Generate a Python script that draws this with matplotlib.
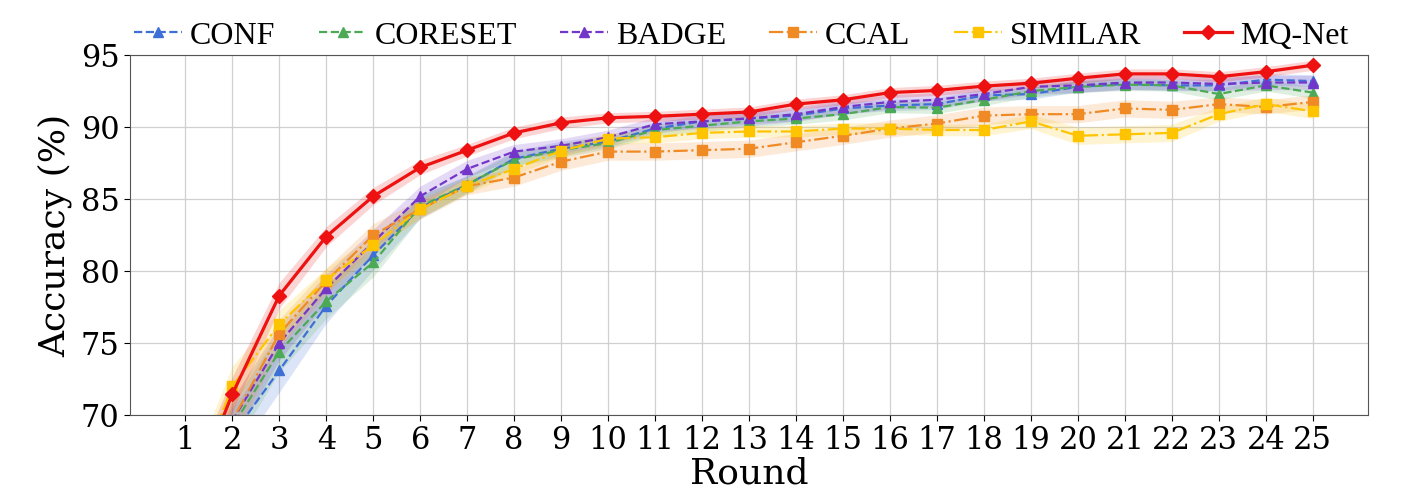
import numpy as np
from matplotlib import pyplot as plt

rounds = np.arange(1, 26)

conf = [60.5, 68.6, 73.1, 77.6, 81.1, 84.4, 86.0, 87.8, 88.5, 89.0, 89.9, 90.4, 90.6, 90.8, 91.3,
        91.5, 91.6, 92.2, 92.3, 92.8, 93.0, 92.9, 92.9, 93.3, 93.2]
coreset = [61.0, 69.2, 74.4, 77.9, 80.6, 84.5, 86.0, 87.75, 88.4, 88.9, 89.8, 90.1, 90.4, 90.6, 90.9,
           91.4, 91.35, 91.9, 92.5, 92.8, 92.95, 92.9, 92.3, 92.9, 92.4]
badge = [61.5, 69.6, 75.0, 78.8, 82.0, 85.2, 87.1, 88.3, 88.7, 89.3, 90.2, 90.4, 90.6, 90.9, 91.4,
         91.75, 91.9, 92.3, 92.8, 92.9, 93.1, 93.1, 93.0, 93.1, 93.1]
ccal = [62.0, 69.6, 75.65, 79.3, 82.5, 84.3, 85.9, 86.5, 87.6, 88.3, 88.3, 88.4, 88.5, 88.95, 89.4,
        89.9, 90.25, 90.8, 90.9, 90.9, 91.3, 91.2, 91.6, 91.4, 91.75]
similar = [63.5, 72.0, 76.3, 79.4, 81.8, 84.3, 85.9, 87.1, 88.35, 89.2, 89.3, 89.6, 89.7, 89.7, 89.9,
           89.9, 89.8, 89.8, 90.4, 89.4, 89.5, 89.6, 90.9, 91.6, 91.1]
mqnet = [63.3, 71.45, 78.3, 82.4, 85.2, 87.2, 88.4, 89.6, 90.3, 90.65, 90.75, 90.9, 91.05, 91.6, 91.9,
         92.4, 92.55, 92.85, 93.05, 93.4, 93.7, 93.7, 93.5, 93.85, 94.3]

# spread of the shaded bands
conf_sd = [2.0, 1.8, 1.6, 1.3, 1.1, 0.8, 0.6, 0.5, 0.5, 0.4, 0.4, 0.4, 0.4, 0.4, 0.4,
           0.4, 0.4, 0.4, 0.4, 0.4, 0.4, 0.4, 0.4, 0.4, 0.4]
coreset_sd = [2.0, 1.6, 1.4, 1.2, 1.0, 0.8, 0.6, 0.5, 0.5, 0.4, 0.4, 0.4, 0.4, 0.4, 0.4,
              0.4, 0.4, 0.4, 0.4, 0.4, 0.4, 0.4, 0.4, 0.4, 0.4]
badge_sd = [1.8, 1.5, 1.2, 1.0, 0.9, 0.7, 0.6, 0.5, 0.5, 0.5, 0.5, 0.5, 0.5, 0.5, 0.5,
            0.5, 0.5, 0.5, 0.5, 0.5, 0.5, 0.5, 0.5, 0.5, 0.5]
ccal_sd = [1.8, 1.4, 1.0, 0.9, 0.8, 0.7, 0.6, 0.6, 0.6, 0.6, 0.6, 0.6, 0.6, 0.6, 0.6,
           0.6, 0.6, 0.6, 0.6, 0.6, 0.6, 0.6, 0.5, 0.5, 0.5]
similar_sd = [1.8, 1.4, 1.0, 0.8, 0.7, 0.5, 0.5, 0.4, 0.4, 0.4, 0.4, 0.4, 0.4, 0.4, 0.4,
              0.4, 0.4, 0.4, 0.5, 0.6, 0.6, 0.6, 0.5, 0.5, 0.5]
mqnet_sd = [1.6, 1.2, 0.9, 0.7, 0.6, 0.5, 0.4, 0.4, 0.4, 0.35, 0.35, 0.35, 0.35, 0.35, 0.35,
            0.35, 0.35, 0.35, 0.35, 0.35, 0.35, 0.35, 0.35, 0.35, 0.35]

names = ["CONF", "CORESET", "BADGE", "CCAL", "SIMILAR", "MQ-Net"]
means = [conf, coreset, badge, ccal, similar, mqnet]
sds = [conf_sd, coreset_sd, badge_sd, ccal_sd, similar_sd, mqnet_sd]
colors = ["#3E6FD6", "#4CAA55", "#7436C8", "#F08A24", "#FFC400", "#EE1111"]
styles = ["--", "--", "--", "-.", "-.", "-"]
markers = ["^", "^", "^", "s", "s", "D"]
widths = [1.6, 1.6, 1.6, 1.6, 1.6, 2.3]

fig = plt.figure(figsize=(14.12, 4.97), dpi=100)
ax = fig.add_axes([0.092, 0.165, 0.877, 0.724])

for name, m, s, c, ls, mk, lw in zip(names, means, sds, colors, styles, markers, widths):
    m = np.array(m)
    s = np.array(s)
    ax.fill_between(rounds, m - s, m + s, color=c, alpha=0.18, linewidth=0)
    ax.plot(rounds, m, linestyle=ls, marker=mk, color=c, lw=lw, markersize=7, label=name)

ax.set_xlim(-0.18, 26.18)
ax.set_ylim(70, 95)
ax.set_xticks(rounds)
ax.set_yticks([70, 75, 80, 85, 90, 95])
ax.tick_params(labelsize=22, length=4)
for lab in ax.get_xticklabels() + ax.get_yticklabels():
    lab.set_family("DejaVu Serif")
ax.grid(True, color="#d0d0d0", linewidth=0.9)
ax.set_axisbelow(True)
for sp in ax.spines.values():
    sp.set_color("#555555")
ax.set_xlabel("Round", fontsize=26, family="DejaVu Serif", labelpad=0)
ax.set_ylabel("Accuracy (%)", fontsize=26, family="DejaVu Serif", labelpad=6)

fig.legend(loc="upper center", bbox_to_anchor=(0.525, 1.015), ncol=6, frameon=False,
           prop={"family": "Liberation Serif", "size": 23}, handlelength=1.5,
           handletextpad=0.25, columnspacing=1.35)

fig.savefig("out.png", dpi=100)
